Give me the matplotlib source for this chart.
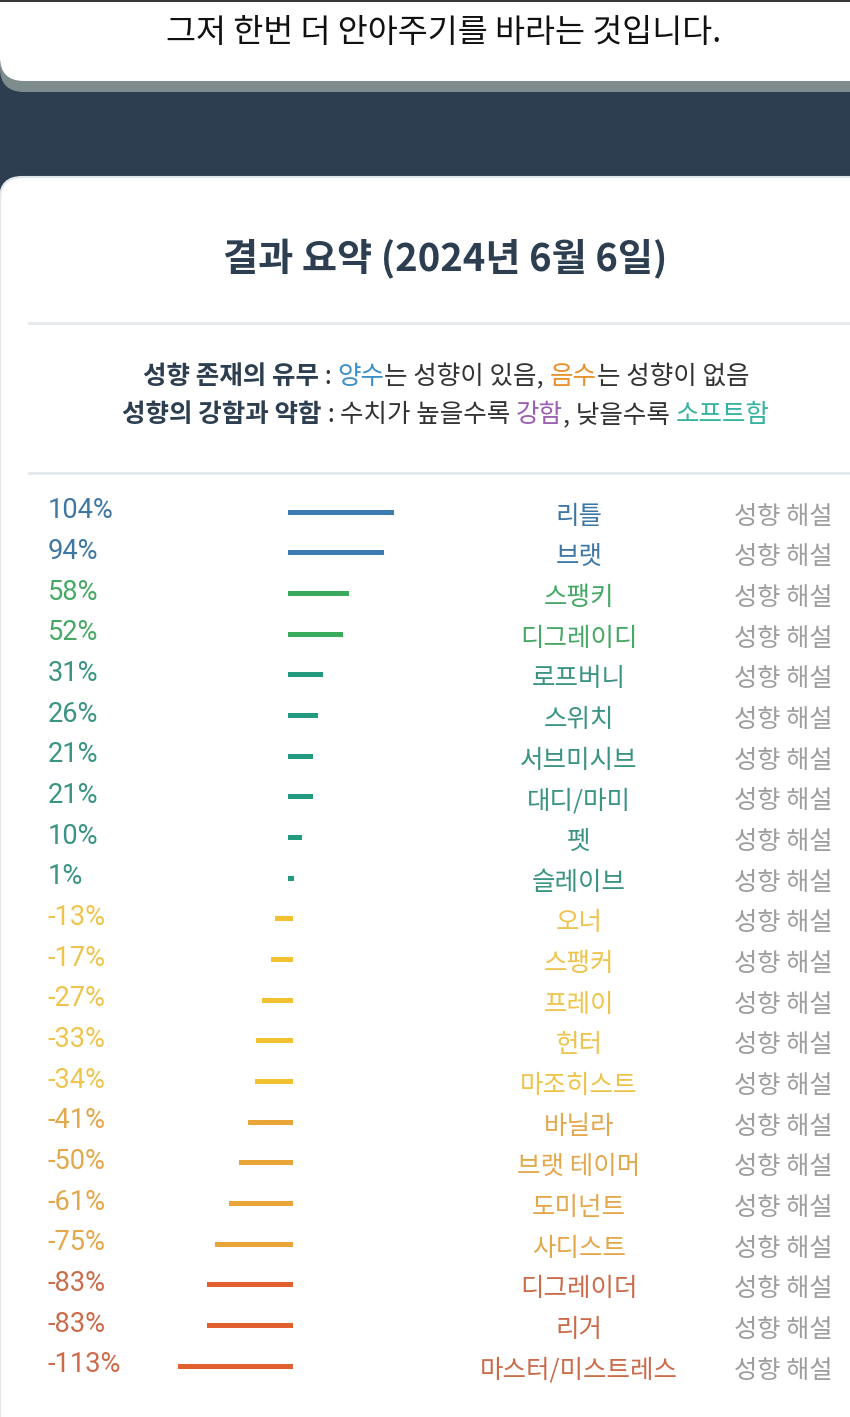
import matplotlib
matplotlib.use("Agg")
import matplotlib.pyplot as plt
from matplotlib.patches import FancyBboxPatch, Rectangle

# ---------------- data ----------------
names = ['리틀', '브랫', '스팽키', '디그레이디', '로프버니', '스위치', '서브미시브',
         '대디/마미', '펫', '슬레이브', '오너', '스팽커', '프레이', '헌터', '마조히스트',
         '바닐라', '브랫 테이머', '도미넌트', '사디스트', '디그레이더', '리거',
         '마스터/미스트레스']
values = [104, 94, 58, 52, 31, 26, 21, 21, 10, 1, -13, -17, -27, -33, -34, -41,
          -50, -61, -75, -83, -83, -113]
link_label = '성향 해설'
top_text = '그저 한번 더 안아주기를 바라는 것입니다.'
title_text = '결과 요약 (2024년 6월 6일)'

KR = ['Noto Sans CJK KR', 'DejaVu Sans']
NUM = ['Roboto', 'DejaVu Sans']


def tier(v):
    # (bar colour, text colour)
    if v >= 90:
        return '#3a7bb2', '#3f77a4'
    if v >= 50:
        return '#3aab5d', '#47a865'
    if v > 0:
        return '#229a80', '#3a9383'
    if v > -40:
        return '#f1c12f', '#eec44c'
    if v > -80:
        return '#e9a537', '#e3a84c'
    return '#e0612f', '#cb6b4a'


W, H = 850, 1417
fig = plt.figure(figsize=(W / 100, H / 100), dpi=100)
bg = fig.add_axes([0, 0, 1, 1])
bg.set_xlim(0, W)
bg.set_ylim(H, 0)
bg.axis('off')
fig.patch.set_facecolor('#2c3e50')

# top card with shadow
bg.add_patch(FancyBboxPatch((0, -200), 1000, 292, boxstyle='round,pad=0,rounding_size=24',
                            fc='#7f8c8d', ec='none', zorder=1))
bg.add_patch(FancyBboxPatch((0, -200), 1000, 281, boxstyle='round,pad=0,rounding_size=24',
                            fc='white', ec='none', zorder=2))
bg.add_patch(Rectangle((0, 0), W, 2, fc='#3a3a3a', ec='none', zorder=3))
bg.text(444, 33, top_text, family=KR, fontsize=23.5, color='#111111',
        ha='center', va='center', zorder=4)

# main card
bg.add_patch(FancyBboxPatch((0, 177), 1000, 1400, boxstyle='round,pad=0,rounding_size=22',
                            fc='white', ec='#dfe5e8', lw=1.5, zorder=2))
bg.text(445, 259, title_text, family=KR, fontsize=27.5, fontweight='bold',
        color='#2c3e50', ha='center', va='center', zorder=4)

for yy in (323, 473):
    bg.add_patch(Rectangle((28, yy - 1.5), 900, 3, fc='#e6eaec', ec='none', zorder=3))

renderer = fig.canvas.get_renderer()


def measure(s, **kw):
    t1 = bg.text(0, 0, s + '|', **kw)
    w1 = t1.get_window_extent(renderer).width
    t1.remove()
    t2 = bg.text(0, 0, '|', **kw)
    w2 = t2.get_window_extent(renderer).width
    t2.remove()
    return w1 - w2


def rich_line(y, pieces, cx, fs):
    ws = [measure(s, family=KR, fontsize=fs, fontweight=wt) for s, c, wt in pieces]
    x = cx - sum(ws) / 2
    for (s, c, wt), w in zip(pieces, ws):
        bg.text(x, y, s, family=KR, fontsize=fs, fontweight=wt, color=c,
                ha='left', va='center', zorder=4)
        x += w


dark = '#2c3e50'
txt = '#333333'
rich_line(377, [('성향 존재의 유무', dark, 'bold'), (' : ', txt, 'normal'),
                ('양수', '#3b8fc9', 'normal'), ('는 성향이 있음, ', txt, 'normal'),
                ('음수', '#e8902c', 'normal'), ('는 성향이 없음', txt, 'normal')], 446, 18.4)
rich_line(415, [('성향의 강함과 약함', dark, 'bold'), (' : ', txt, 'normal'),
                ('수치가 높을수록 ', txt, 'normal'), ('강함', '#9b5fb3', 'normal'),
                (', 낮을수록 ', txt, 'normal'), ('소프트함', '#35b3a0', 'normal')], 446, 18.4)

# ---------------- bars ----------------
row0, step = 511.7, 40.67
n = len(values)
zero_px, px_per = 289.7, 0.97
ax_left, ax_right = 150, 450
top_px = row0 - 0.5 * step
bot_px = row0 + (n - 0.5) * step
ax = fig.add_axes([ax_left / W, 1 - bot_px / H, (ax_right - ax_left) / W, (bot_px - top_px) / H])
ax.set_xlim(-(zero_px - ax_left) / px_per, (ax_right - zero_px) / px_per)
ax.set_ylim(n - 0.5, -0.5)
ax.axis('off')
ax.patch.set_alpha(0)

rows = list(range(n))
bar_cols = [tier(v)[0] for v in values]
txt_cols = [tier(v)[1] for v in values]
ax.hlines(rows, 0, values, colors=bar_cols, linewidth=3.6, capstyle='projecting')

for i, (nm, v) in enumerate(zip(names, values)):
    yc = row0 + i * step
    bg.text(48, yc - 1, f'{v}%', family=NUM, fontsize=19.6, color=txt_cols[i],
            ha='left', va='center', zorder=4)
    bg.text(579, yc + 5, nm, family=KR, fontsize=18.4, color=txt_cols[i],
            ha='center', va='center', zorder=4)
    bg.text(783.5, yc + 5, link_label, family=KR, fontsize=18.2, color='#9e9e9e',
            ha='center', va='center', zorder=4)

fig.savefig('out.png', dpi=100, facecolor=fig.get_facecolor())
